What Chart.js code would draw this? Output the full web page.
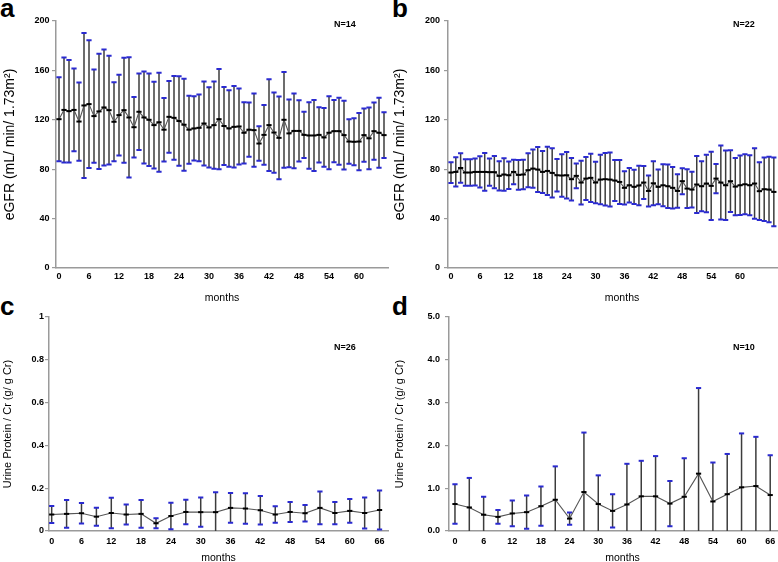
<!DOCTYPE html>
<html>
<head>
<meta charset="utf-8">
<script src="https://cdn.jsdelivr.net/npm/chart.js@4.4.1/dist/chart.umd.min.js"></script>
<style>
html, body { margin: 0; padding: 0; background: #fff; overflow: hidden; width: 778px; height: 562px; position: relative; }
.box { position: absolute; }
.tag { position: absolute; font: bold 26px "Liberation Sans", Arial, sans-serif; line-height: 26px; color: #000; }
.n { position: absolute; font: bold 9px "Liberation Sans", Arial, sans-serif; line-height: 10px; color: #000; }
</style>
</head>
<body>

<div class="tag" style="left:0px;top:-5px">a</div>
<div class="tag" style="left:392px;top:-5px">b</div>
<div class="tag" style="left:0px;top:293px">c</div>
<div class="tag" style="left:392px;top:293px">d</div>

<div class="box" style="left:0px;top:0px;width:395px;height:305px"><canvas id="chartA"></canvas></div>
<div class="box" style="left:392px;top:0px;width:410px;height:305px"><canvas id="chartB"></canvas></div>
<div class="box" style="left:0px;top:305px;width:395px;height:261px"><canvas id="chartC"></canvas></div>
<div class="box" style="left:392px;top:305px;width:410px;height:261px"><canvas id="chartD"></canvas></div>

<div class="n" style="left:334px;top:19px">N=14</div>
<div class="n" style="left:733px;top:19px">N=22</div>
<div class="n" style="left:334px;top:342px">N=26</div>
<div class="n" style="left:733px;top:342px">N=10</div>

<script>
// ---- data ----
const monthsA = [0,1,2,3,4,5,6,7,8,9,10,11,12,13,14,15,16,17,18,19,20,21,22,23,24,25,26,27,28,29,30,31,32,
  33,34,35,36,37,38,39,40,41,42,43,44,45,46,47,48,49,50,51,52,53,54,55,56,57,58,59,60,61,62,63,64,65];
const egfrMeanA = [120.5,128,127,128,118.6,131.6,132.7,123,126.8,130,127.8,118.4,123.8,127.8,121.9,114,126.5,
  121.9,120,115.7,118,112,122.4,121.6,119,116,112,113,113.5,117,113.8,115.7,120.5,115,113,114.3,114.6,109.5,
  112,111.6,100.8,107.8,115.7,109.7,105.4,120,109,111,111,107.8,107.3,107.3,107.8,105.7,109.5,110.8,110.8,
  107.6,102.4,102.2,102.4,107.6,105,110.8,109.5,107.6];
const egfrSdA = [34,42.5,41.5,33.5,31.7,58.7,51.7,37.7,46.7,47,44,32,32.7,42.5,48.7,24.5,31,37.3,37.5,35.2,
  40,25.7,29,33.9,36.3,37.2,27.5,26,27,34,32.5,35.3,40.6,31.6,31,33,30.7,24.8,22,29.7,14,24.2,37.2,32.5,33.5,
  38.8,27.5,30.3,24.8,18.7,26.9,28.8,22.4,23.8,29.6,25.2,27.1,27.8,18,19,23.2,21.6,25,23.2,28.4,18.5];

const monthsB = [0,1,2,3,4,5,6,7,8,9,10,11,12,13,14,15,16,17,18,19,20,21,22,23,24,25,26,27,28,29,30,31,32,
  33,34,35,36,37,38,39,40,41,42,43,44,45,46,47,48,49,50,51,52,53,54,55,56,57,58,59,60,61,62,63,64,65,66,67];
const egfrMeanB = [77.3,77.8,81,77.3,77.3,77.8,77.8,77.8,77.6,77.6,74.6,75.7,75.1,77.8,75.4,75.7,79.2,80.5,
  79.7,77.8,78.6,77,75.1,74.9,75.1,71.9,74.6,69.2,72.4,73,69.2,71.6,71.9,71.6,70.8,69.7,64.9,67,65.7,66.8,
  69.2,62.4,68.6,65.7,67,66.2,64.9,62.4,70.3,64.3,63.5,67.6,66.2,68.4,66.5,72.4,69.2,67,70.3,65.9,67,67.8,
  67,68.4,62.2,63.8,63.5,61.6];
const egfrSdB = [8.4,11.9,11.9,10.8,10.7,10.9,12.6,15.3,11.1,13.1,11.8,13.1,11.1,9.9,12,12,13.8,15.5,18.2,17,
  19.5,20,13.1,17.2,18.9,17.2,10.1,17.7,17.4,19.5,16.8,20,21.2,21.9,16.6,17.8,13.5,13.9,13.8,15.9,13.4,12.6,
  17.8,14.1,17,17.6,16.8,13.6,10.5,15.7,14.5,23,20.3,23.2,27.6,11.9,29.9,28.1,25,23.1,24,24.3,24.3,28.6,23.4,
  25.7,26.5,27.8];

const monthsCD = [0,3,6,9,12,15,18,21,24,27,30,33,36,39,42,45,48,51,54,57,60,63,66];
const upcrMeanC = [0.077,0.08,0.083,0.067,0.084,0.077,0.08,0.036,0.07,0.089,0.088,0.088,0.108,0.105,0.097,
  0.077,0.089,0.083,0.108,0.084,0.094,0.084,0.098];
const upcrSdC = [0.04,0.065,0.048,0.042,0.071,0.047,0.065,0.023,0.062,0.057,0.068,0.093,0.07,0.071,0.067,
  0.039,0.047,0.039,0.076,0.052,0.056,0.072,0.091];
const upcrMeanD = [0.63,0.55,0.38,0.33,0.41,0.44,0.58,0.73,0.29,0.91,0.63,0.47,0.62,0.81,0.81,0.64,0.8,1.34,
  0.69,0.86,1.02,1.05,0.84];
const upcrSdD = [0.46,0.69,0.42,0.16,0.3,0.39,0.46,0.78,0.145,1.39,0.67,0.39,0.95,0.83,0.94,0.53,0.9,2.0,
  0.91,0.94,1.26,1.15,0.93];

const xTicksTop = [0,6,12,18,24,30,36,42,48,54,60];
const xTicksBottom = [0,6,12,18,24,30,36,42,48,54,60,66];
const yTicksEgfr = [0,40,80,120,160,200];
const yTicksC = [0,0.2,0.4,0.6,0.8,1];
const yTickLabelsC = ['0','0.2','0.4','0.6','0.8','1'];
const yTicksD = [0,1,2,3,4,5];
const yTickLabelsD = ['0.0','1.0','2.0','3.0','4.0','5.0'];

const FONT = '"Liberation Sans", Arial, sans-serif';
const AXIS = '#9a9a9a';

// draws the +/- SD whiskers under the mean line; lower whisker stops at the axis
const errorBars = {
  id: 'errorBars',
  beforeDatasetsDraw(chart) {
    const { ctx } = chart;
    const xs = chart.scales.x, ys = chart.scales.y;
    const ds = chart.data.datasets[0];
    ctx.save();
    ds.data.forEach((p, i) => {
      const sd = ds.errors[i];
      const px = xs.getPixelForValue(p.x);
      const yTop = ys.getPixelForValue(p.y + sd);
      let low = p.y - sd, capLow = true;
      if (low < ys.min) { low = ys.min; capLow = false; }
      const yBot = ys.getPixelForValue(low);
      ctx.strokeStyle = '#3c3c3c';
      ctx.lineWidth = 1.5;
      ctx.beginPath();
      ctx.moveTo(px, yTop);
      ctx.lineTo(px, yBot);
      ctx.stroke();
      ctx.strokeStyle = '#2a2ad0';
      ctx.lineWidth = 2;
      ctx.beginPath();
      ctx.moveTo(px - 2.6, yTop);
      ctx.lineTo(px + 2.6, yTop);
      if (capLow) {
        ctx.moveTo(px - 2.6, yBot);
        ctx.lineTo(px + 2.6, yBot);
      }
      ctx.stroke();
    });
    ctx.restore();
  }
};

function makePanel(id, p) {
  return new Chart(document.getElementById(id), {
    type: 'line',
    data: {
      datasets: [{
        data: p.months.map((m, i) => ({ x: m, y: p.mean[i] })),
        errors: p.sd,
        borderColor: '#555',
        borderWidth: 1.1,
        pointStyle: 'line',
        pointRadius: 2.6,
        pointBorderWidth: 2,
        pointBorderColor: '#000',
        tension: 0
      }]
    },
    options: {
      responsive: true,
      maintainAspectRatio: false,
      animation: false,
      layout: { padding: p.pad },
      plugins: { legend: { display: false }, tooltip: { enabled: false } },
      scales: {
        x: {
          type: 'linear',
          min: p.xMin,
          max: p.xMax,
          afterBuildTicks: s => { s.ticks = p.xTicks.map(v => ({ value: v })); },
          afterFit: s => { s.height = p.xh; },
          grid: { display: false, drawTicks: false },
          border: { color: AXIS, width: 1.5 },
          ticks: { color: '#000', font: { family: FONT, size: 9, weight: 'bold' }, padding: p.xPad, autoSkip: false, maxRotation: 0 },
          title: { display: true, text: 'months', color: '#000', font: { family: FONT, size: 10.5 }, padding: { top: 0, bottom: p.xTitlePad } }
        },
        y: {
          min: p.yTicks[0],
          max: p.yTicks[p.yTicks.length - 1],
          afterBuildTicks: s => { s.ticks = p.yTicks.map(v => ({ value: v })); },
          afterFit: s => { s.width = p.yw; },
          grid: { drawOnChartArea: false, drawTicks: true, tickLength: 4, color: AXIS, lineWidth: 1.2 },
          border: { color: AXIS, width: 1.5 },
          ticks: {
            color: '#000',
            font: { family: FONT, size: 9, weight: 'bold' },
            padding: p.yPad,
            callback: (v, i) => p.yLabels ? p.yLabels[i] : String(v)
          },
          title: { display: true, text: p.yTitle, color: '#000', font: { family: FONT, size: p.yTitleSize }, padding: { top: p.yTitlePad, bottom: 0 } }
        }
      }
    },
    plugins: [errorBars]
  });
}

makePanel('chartA', {
  months: monthsA, mean: egfrMeanA, sd: egfrSdA,
  xMin: -0.6, xMax: 65.8, xTicks: xTicksTop, yTicks: yTicksEgfr,
  pad: { top: 21, right: 7, left: 0, bottom: 0 }, xh: 37, yw: 56, xPad: 3, yPad: 2.5, xTitlePad: 0.5,
  yTitle: 'eGFR (mL/ min/ 1.73m²)', yTitleSize: 14, yTitlePad: 2
});
makePanel('chartB', {
  months: monthsB, mean: egfrMeanB, sd: egfrSdB,
  xMin: -0.62, xMax: 71.6, xTicks: xTicksTop, yTicks: yTicksEgfr,
  pad: { top: 21, right: 2, left: 0, bottom: 0 }, xh: 37, yw: 56, xPad: 3, yPad: 4, xTitlePad: 0.5,
  yTitle: 'eGFR (mL/ min/ 1.73m²)', yTitleSize: 14, yTitlePad: 0
});
makePanel('chartC', {
  months: monthsCD, mean: upcrMeanC, sd: upcrSdC,
  xMin: -0.54, xMax: 67.7, xTicks: xTicksBottom, yTicks: yTicksC, yLabels: yTickLabelsC,
  pad: { top: 12, right: 7, left: 0, bottom: 0 }, xh: 35, yw: 49, xPad: 5.5, yPad: 1, xTitlePad: 1.7,
  yTitle: 'Urine Protein / Cr (g/ g Cr)', yTitleSize: 11, yTitlePad: 1.7
});
makePanel('chartD', {
  months: monthsCD, mean: upcrMeanD, sd: upcrSdD,
  xMin: -1.25, xMax: 71.4, xTicks: xTicksBottom, yTicks: yTicksD, yLabels: yTickLabelsD,
  pad: { top: 12, right: 5, left: 0, bottom: 0 }, xh: 35, yw: 57, xPad: 5.5, yPad: 5, xTitlePad: 1.7,
  yTitle: 'Urine Protein / Cr (g/ g Cr)', yTitleSize: 11, yTitlePad: 1.4
});
</script>
</body>
</html>
